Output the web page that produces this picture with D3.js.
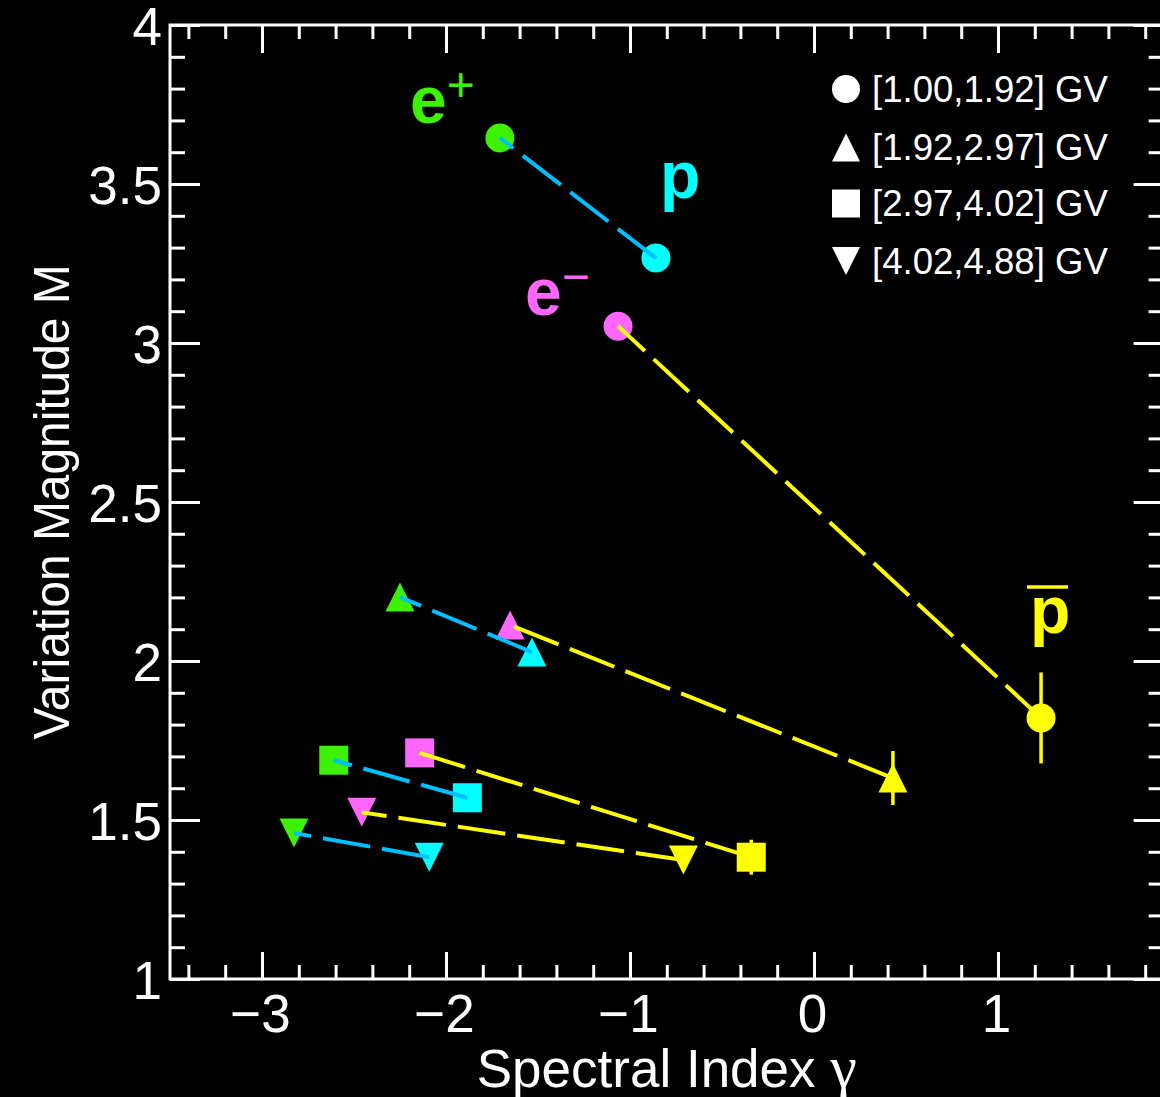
<!DOCTYPE html>
<html>
<head>
<meta charset="utf-8">
<script src="https://cdn.jsdelivr.net/npm/d3@7"></script>
<style>
  html, body { margin: 0; padding: 0; background: #000; }
  svg { display: block; }
  text { font-family: "Liberation Sans", Arial, Helvetica, sans-serif; }
</style>
</head>
<body>
<div id="chart"></div>
<script>
// ---------------- data ----------------
const rigidityBins = ["[1.00,1.92] GV", "[1.92,2.97] GV", "[2.97,4.02] GV", "[4.02,4.88] GV"];
const binShapes = ["circle", "triangleUp", "square", "triangleDown"];

const ePosGamma   = [-1.707, -2.250, -2.610, -2.826];
const ePosM       = [ 3.645,  2.201,  1.688,  1.459];
const protonGamma = [-0.859, -1.533, -1.884, -2.091];
const protonM     = [ 3.267,  2.028,  1.570,  1.383];
const eNegGamma   = [-1.065, -1.652, -2.143, -2.458];
const eNegM       = [ 3.053,  2.113,  1.711,  1.524];
const pbarGamma   = [ 1.234,  0.429, -0.341, -0.710];
const pbarM       = [ 1.821,  1.632,  1.383,  1.374];
const pbarMErr    = [ 0.143,  0.085,  0.055,  0.030];

const xMajorTicks = [-3, -2, -1, 0, 1];
const yMajorTicks = [1, 1.5, 2, 2.5, 3, 3.5, 4];

// species labels anchored in data coordinates
const speciesLabels = [
  { base: "e", sup: "+", color: "#3df200", gx: -2.196, m: 3.692 },
  { base: "p", sup: "",  color: "#00ffff", gx: -0.837, m: 3.456 },
  { base: "e", sup: "\u2212", color: "#ff66ff", gx: -1.571, m: 3.088 },
  { base: "p", sup: "", bar: true, color: "#ffff00", gx: 1.174, m: 2.088 }
];

// ---------------- layout ----------------
const W = 1160, H = 1097;
const x = d3.scaleLinear().domain([-3.5, 1.9]).range([170, 1163.6]);
const y = d3.scaleLinear().domain([1, 4]).range([979, 25]);

const colors = {
  ePos: "#3df200", proton: "#00ffff", eNeg: "#ff66ff", pbar: "#ffff00",
  cyanLine: "#00bfff", yellowLine: "#ffff00"
};

const svg = d3.select("#chart").append("svg")
  .attr("width", W).attr("height", H);
svg.append("rect").attr("width", W).attr("height", H).attr("fill", "#000");

// ---------------- axes ----------------
const xMinor = d3.range(-3.4, 1.9001, 0.2).map(v => +v.toFixed(2)).filter(v => !xMajorTicks.some(t => Math.abs(t - v) < 1e-6));
const yMinor = d3.range(1.1, 4.0, 0.1).map(v => +v.toFixed(2)).filter(v => !yMajorTicks.some(t => Math.abs(t - v) < 1e-6));

function styleAxis(g) {
  g.select(".domain").remove();
  g.selectAll(".tick line").attr("stroke", "#fff").attr("stroke-width", 3);
  g.selectAll(".tick text").attr("fill", "#fff").attr("font-size", 53)
    .attr("font-family", "'Liberation Sans', Arial, Helvetica, sans-serif");
}

// bottom
svg.append("g").attr("transform", `translate(0,${y(1)})`)
  .call(d3.axisBottom(x).tickValues(xMajorTicks).tickSize(-27).tickPadding(15).tickFormat(d3.format("")))
  .call(styleAxis)
  .call(g => g.selectAll(".tick text").attr("dx", -2));
svg.append("g").attr("transform", `translate(0,${y(1)})`)
  .call(d3.axisBottom(x).tickValues(xMinor).tickSize(-14).tickFormat(""))
  .call(styleAxis);
// top
svg.append("g").attr("transform", `translate(0,${y(4)})`)
  .call(d3.axisTop(x).tickValues(xMajorTicks).tickSize(-28).tickFormat(""))
  .call(styleAxis);
svg.append("g").attr("transform", `translate(0,${y(4)})`)
  .call(d3.axisTop(x).tickValues(xMinor).tickSize(-14).tickFormat(""))
  .call(styleAxis);
// left
svg.append("g").attr("transform", `translate(${x(-3.5)},0)`)
  .call(d3.axisLeft(y).tickValues(yMajorTicks).tickSize(-30).tickPadding(8).tickFormat(d3.format("")))
  .call(styleAxis)
  .call(g => g.selectAll(".tick text").attr("dy", "0.37em"));
svg.append("g").attr("transform", `translate(${x(-3.5)},0)`)
  .call(d3.axisLeft(y).tickValues(yMinor).tickSize(-15).tickFormat(""))
  .call(styleAxis);
// right
svg.append("g").attr("transform", `translate(${x(1.9)},0)`)
  .call(d3.axisRight(y).tickValues(yMajorTicks).tickSize(-30).tickFormat(""))
  .call(styleAxis);
svg.append("g").attr("transform", `translate(${x(1.9)},0)`)
  .call(d3.axisRight(y).tickValues(yMinor).tickSize(-15).tickFormat(""))
  .call(styleAxis);

// frame
svg.append("rect")
  .attr("x", x(-3.5)).attr("y", y(4))
  .attr("width", x(1.9) - x(-3.5)).attr("height", y(1) - y(4))
  .attr("fill", "none").attr("stroke", "#fff").attr("stroke-width", 3);

// axis titles
const xt = svg.append("text")
  .attr("x", (x(-3.5) + x(1.9)) / 2).attr("y", 1087)
  .attr("text-anchor", "middle").attr("fill", "#fff").attr("font-size", 53);
xt.append("tspan").text("Spectral Index ");
xt.append("tspan").attr("font-family", "'Liberation Serif', 'DejaVu Serif', serif").attr("font-size", 60).text("\u03b3");

svg.append("text")
  .attr("transform", `translate(69,${(y(1) + y(4)) / 2}) rotate(-90)`)
  .attr("text-anchor", "middle").attr("fill", "#fff").attr("font-size", 50)
  .attr("textLength", 475).attr("lengthAdjust", "spacingAndGlyphs")
  .text("Variation Magnitude M");

// ---------------- markers ----------------
function markerPath(shape, cx, cy, s) {
  const h = s / 2;
  if (shape === "circle") {
    return `M${cx - h},${cy}A${h},${h} 0 1,0 ${cx + h},${cy}A${h},${h} 0 1,0 ${cx - h},${cy}Z`;
  } else if (shape === "triangleUp") {
    return `M${cx - h},${cy + h}L${cx + h},${cy + h}L${cx},${cy - h}Z`;
  } else if (shape === "triangleDown") {
    return `M${cx - h},${cy - h}L${cx + h},${cy - h}L${cx},${cy + h}Z`;
  }
  return `M${cx - h},${cy - h}H${cx + h}V${cy + h}H${cx - h}Z`;
}

const MS = 29;
const speciesSeries = [
  { g: ePosGamma, m: ePosM, color: colors.ePos },
  { g: protonGamma, m: protonM, color: colors.proton },
  { g: eNegGamma, m: eNegM, color: colors.eNeg },
  { g: pbarGamma, m: pbarM, color: colors.pbar }
];

// error bars for pbar
svg.append("g").selectAll("line").data(pbarGamma.map((g, i) => i)).join("line")
  .attr("x1", i => x(pbarGamma[i])).attr("x2", i => x(pbarGamma[i]))
  .attr("y1", i => y(pbarM[i] - pbarMErr[i])).attr("y2", i => y(pbarM[i] + pbarMErr[i]))
  .attr("stroke", colors.pbar).attr("stroke-width", 3.5);

speciesSeries.forEach(sp => {
  svg.append("g").selectAll("path").data(sp.g.map((g, i) => i)).join("path")
    .attr("d", i => markerPath(binShapes[i], x(sp.g[i]), y(sp.m[i]), MS))
    .attr("fill", sp.color);
});

// ---------------- connecting dashed lines ----------------
const line = d3.line().x(d => x(d[0])).y(d => y(d[1]));
rigidityBins.forEach((b, i) => {
  svg.append("path")
    .attr("d", line([[protonGamma[i], protonM[i]], [ePosGamma[i], ePosM[i]]]))
    .attr("fill", "none").attr("stroke", colors.cyanLine).attr("stroke-width", 4)
    .attr("stroke-dasharray", "48 12");
  svg.append("path")
    .attr("d", line([[pbarGamma[i], pbarM[i]], [eNegGamma[i], eNegM[i]]]))
    .attr("fill", "none").attr("stroke", colors.yellowLine).attr("stroke-width", 4)
    .attr("stroke-dasharray", "48 12");
});

// ---------------- species labels ----------------
speciesLabels.forEach(l => {
  const t = svg.append("text")
    .attr("x", x(l.gx)).attr("y", y(l.m))
    .attr("fill", l.color).attr("font-weight", "bold").attr("font-size", 66);
  t.append("tspan").text(l.base);
  if (l.sup) {
    t.append("tspan").attr("font-weight", "normal").attr("font-size", 48)
      .attr("dy", -22).text(l.sup);
  }
  if (l.bar) {
    svg.append("line")
      .attr("x1", x(l.gx) - 3).attr("x2", x(l.gx) + 38)
      .attr("y1", y(l.m) - 46).attr("y2", y(l.m) - 46)
      .attr("stroke", l.color).attr("stroke-width", 3.5);
  }
});

// ---------------- legend ----------------
const legendX = 846, legendTextX = 872;
const legendRowY = [89, 147.5, 203.5, 261];
const lg = svg.append("g");
rigidityBins.forEach((b, i) => {
  lg.append("path").attr("d", markerPath(binShapes[i], legendX, legendRowY[i], 28)).attr("fill", "#fff");
  lg.append("text").attr("x", legendTextX).attr("y", legendRowY[i] + 12.5)
    .attr("fill", "#fff").attr("font-size", 36.6).text(b);
});
</script>
</body>
</html>
